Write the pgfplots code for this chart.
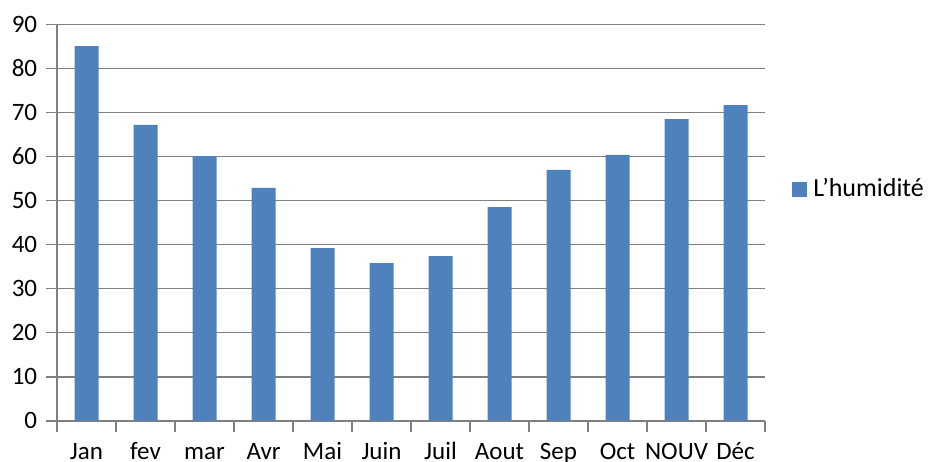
\documentclass[border=0pt]{standalone}
\usepackage{pgfplots}
\pgfplotsset{compat=1.18}
\usepackage{fontspec}
\setmainfont{Carlito}
\definecolor{barblue}{RGB}{79,129,189}
\definecolor{gridgray}{RGB}{128,128,128}
\begin{document}
\fontsize{26bp}{30bp}\selectfont
\begin{tikzpicture}[x=1bp,y=1bp]
\begin{axis}[
  at={(57bp,41.3bp)}, anchor=south west,
  scale only axis, width=708bp, height=396.2bp,
  ymin=0, ymax=90, ytick={0,10,...,90},
  xmin=-0.5, xmax=11.5,
  xtick={-0.5,0.5,...,11.5},
  x tick label as interval,
  xticklabels={Jan,fev,mar,Avr,Mai,Juin,Juil,Aout,Sep,Oct,NOUV,Déc},
  axis x line*=bottom, axis y line*=left,
  ymajorgrids, grid style={gridgray, line width=1.7bp},
  axis line style={gridgray, line width=1.7bp},
  tick style={gridgray, line width=1.7bp},
  major tick length=11bp,
  tick align=outside,
  /pgf/number format/assume math mode=true,
  tick label style={font=\fontsize{25bp}{30bp}\selectfont, text=black},
  xticklabel style={anchor=north, text height=17bp, text depth=6bp, inner sep=0pt, yshift=-11bp},
  ybar, bar width=24bp,
  legend style={at={(1.034,0.5835)}, anchor=west, draw=none, fill=none,
    font=\fontsize{26bp}{30bp}\selectfont},
  legend image code/.code={\fill[barblue] (0bp,-7.5bp) rectangle (15bp,7.5bp);\path (0bp,0bp) -- (19bp,0bp);},
]
\addplot[fill=barblue, draw=none] coordinates {
  (0,85.1) (1,67.2) (2,60.1) (3,52.9) (4,39.2) (5,35.8)
  (6,37.4) (7,48.5) (8,57.0) (9,60.4) (10,68.5) (11,71.7)
};
\addlegendentry{L’humidité}
\end{axis}
\pgfresetboundingbox
\useasboundingbox (0,0) rectangle (928,462);
\end{tikzpicture}
\end{document}
